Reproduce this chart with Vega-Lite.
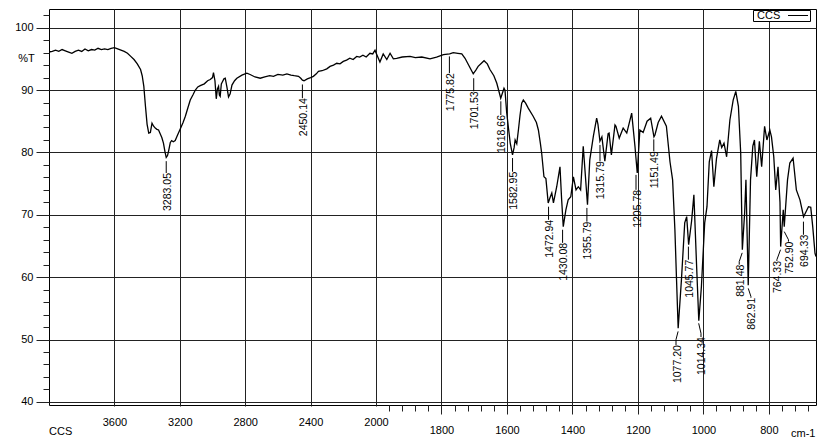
{
  "$schema": "https://vega.github.io/schema/vega-lite/v6.json",
  "autosize": "none",
  "padding": {"left": 49, "top": 9, "right": 19, "bottom": 41},
  "width": 767,
  "height": 396,
  "background": "white",
  "config": {
    "view": {"stroke": "black", "strokeWidth": 1},
    "font": "Liberation Sans",
    "axis": {"domain": false, "labelFont": "Liberation Sans", "labelFontSize": 11, "labelColor": "black", "tickColor": "#222", "gridColor": "#222", "gridWidth": 1, "titleFont": "Liberation Sans", "titleFontSize": 11, "titleFontWeight": "normal", "titleColor": "black"}
  },
  "title": {"text": "CCS", "orient": "bottom", "anchor": "start", "frame": "group", "fontSize": 11, "fontWeight": "normal", "font": "Liberation Sans", "offset": -12, "color": "black"},
  "datasets": {
    "ir": [
      {"wn":4000,"t":96.1},{"wn":3980,"t":96.2},{"wn":3960,"t":96.4},{"wn":3940,"t":96.2},{"wn":3920,"t":96.5},{"wn":3900,"t":96.3},{"wn":3880,"t":96.1},{"wn":3860,"t":95.9},{"wn":3840,"t":96.2},{"wn":3820,"t":96.4},{"wn":3800,"t":96.2},{"wn":3780,"t":96.6},{"wn":3760,"t":96.3},{"wn":3740,"t":96.5},{"wn":3720,"t":96.4},{"wn":3700,"t":96.7},{"wn":3680,"t":96.5},{"wn":3660,"t":96.6},{"wn":3640,"t":96.5},{"wn":3620,"t":96.7},{"wn":3600,"t":96.8},{"wn":3580,"t":96.6},{"wn":3560,"t":96.4},{"wn":3540,"t":96.2},{"wn":3520,"t":95.9},{"wn":3500,"t":95.4},{"wn":3480,"t":94.9},{"wn":3460,"t":94.2},{"wn":3440,"t":93.3},{"wn":3430,"t":92.3},{"wn":3420,"t":90.6},{"wn":3410,"t":87.4},{"wn":3400,"t":84.5},{"wn":3390,"t":83.1},{"wn":3380,"t":83.2},{"wn":3370,"t":84.7},{"wn":3360,"t":84.2},{"wn":3350,"t":83.9},{"wn":3340,"t":83.7},{"wn":3330,"t":83.6},{"wn":3320,"t":83.0},{"wn":3310,"t":82.4},{"wn":3300,"t":81.5},{"wn":3290,"t":80.0},{"wn":3283,"t":79.2},{"wn":3275,"t":79.5},{"wn":3268,"t":80.3},{"wn":3258,"t":81.6},{"wn":3250,"t":81.9},{"wn":3240,"t":81.7},{"wn":3228,"t":81.9},{"wn":3215,"t":82.7},{"wn":3200,"t":83.6},{"wn":3180,"t":84.8},{"wn":3166,"t":85.8},{"wn":3150,"t":87.2},{"wn":3136,"t":88.4},{"wn":3120,"t":89.2},{"wn":3105,"t":90.0},{"wn":3090,"t":90.5},{"wn":3075,"t":90.7},{"wn":3050,"t":91.0},{"wn":3030,"t":91.5},{"wn":3014,"t":91.7},{"wn":3000,"t":92.0},{"wn":2994,"t":92.8},{"wn":2985,"t":91.5},{"wn":2977,"t":88.6},{"wn":2970,"t":90.2},{"wn":2963,"t":90.6},{"wn":2958,"t":89.2},{"wn":2953,"t":89.0},{"wn":2946,"t":91.0},{"wn":2940,"t":91.3},{"wn":2930,"t":91.8},{"wn":2922,"t":91.9},{"wn":2912,"t":90.5},{"wn":2902,"t":88.9},{"wn":2892,"t":89.4},{"wn":2881,"t":90.8},{"wn":2865,"t":91.5},{"wn":2851,"t":91.9},{"wn":2820,"t":92.4},{"wn":2790,"t":92.7},{"wn":2770,"t":92.5},{"wn":2740,"t":92.1},{"wn":2708,"t":91.9},{"wn":2680,"t":92.1},{"wn":2650,"t":92.3},{"wn":2627,"t":92.2},{"wn":2600,"t":92.5},{"wn":2570,"t":92.4},{"wn":2545,"t":92.6},{"wn":2520,"t":92.4},{"wn":2500,"t":92.3},{"wn":2474,"t":92.2},{"wn":2460,"t":91.9},{"wn":2450,"t":91.6},{"wn":2440,"t":91.5},{"wn":2420,"t":91.8},{"wn":2400,"t":92.0},{"wn":2383,"t":92.2},{"wn":2365,"t":92.6},{"wn":2352,"t":93.0},{"wn":2330,"t":93.1},{"wn":2301,"t":93.4},{"wn":2281,"t":93.8},{"wn":2260,"t":94.0},{"wn":2240,"t":94.3},{"wn":2220,"t":94.2},{"wn":2200,"t":94.6},{"wn":2180,"t":94.8},{"wn":2160,"t":95.1},{"wn":2140,"t":94.9},{"wn":2118,"t":95.4},{"wn":2100,"t":95.3},{"wn":2080,"t":95.6},{"wn":2060,"t":95.3},{"wn":2037,"t":95.9},{"wn":2020,"t":95.8},{"wn":2006,"t":96.4},{"wn":2000,"t":96.0},{"wn":1988,"t":94.5},{"wn":1978,"t":95.8},{"wn":1967,"t":94.9},{"wn":1957,"t":95.9},{"wn":1947,"t":95.0},{"wn":1937,"t":95.1},{"wn":1920,"t":95.3},{"wn":1896,"t":95.4},{"wn":1880,"t":95.2},{"wn":1860,"t":95.3},{"wn":1835,"t":95.0},{"wn":1815,"t":95.3},{"wn":1794,"t":95.7},{"wn":1775,"t":95.8},{"wn":1764,"t":96.0},{"wn":1750,"t":95.9},{"wn":1738,"t":95.8},{"wn":1728,"t":95.1},{"wn":1718,"t":94.1},{"wn":1703,"t":92.6},{"wn":1695,"t":93.2},{"wn":1688,"t":93.8},{"wn":1678,"t":94.3},{"wn":1670,"t":94.7},{"wn":1660,"t":94.2},{"wn":1652,"t":93.3},{"wn":1640,"t":92.3},{"wn":1631,"t":91.1},{"wn":1619,"t":88.7},{"wn":1614,"t":89.5},{"wn":1609,"t":90.3},{"wn":1606,"t":90.0},{"wn":1601,"t":86.5},{"wn":1596,"t":84.2},{"wn":1590,"t":81.5},{"wn":1583,"t":79.6},{"wn":1578,"t":80.8},{"wn":1575,"t":82.0},{"wn":1570,"t":81.4},{"wn":1565,"t":83.6},{"wn":1560,"t":86.0},{"wn":1555,"t":87.9},{"wn":1550,"t":88.4},{"wn":1543,"t":87.9},{"wn":1535,"t":87.1},{"wn":1520,"t":85.8},{"wn":1510,"t":84.8},{"wn":1504,"t":83.6},{"wn":1498,"t":81.5},{"wn":1494,"t":79.9},{"wn":1487,"t":76.1},{"wn":1481,"t":75.8},{"wn":1474,"t":71.9},{"wn":1468,"t":72.8},{"wn":1463,"t":73.5},{"wn":1458,"t":71.9},{"wn":1448,"t":74.5},{"wn":1438,"t":77.7},{"wn":1433,"t":72.5},{"wn":1428,"t":68.1},{"wn":1420,"t":70.8},{"wn":1413,"t":72.4},{"wn":1405,"t":72.9},{"wn":1397,"t":76.1},{"wn":1389,"t":74.0},{"wn":1382,"t":74.5},{"wn":1375,"t":74.0},{"wn":1367,"t":81.0},{"wn":1354,"t":71.6},{"wn":1347,"t":78.8},{"wn":1336,"t":82.6},{"wn":1326,"t":85.5},{"wn":1322,"t":84.5},{"wn":1316,"t":81.8},{"wn":1310,"t":82.5},{"wn":1301,"t":78.6},{"wn":1291,"t":83.0},{"wn":1288,"t":83.1},{"wn":1281,"t":79.6},{"wn":1270,"t":84.4},{"wn":1267,"t":84.2},{"wn":1257,"t":82.3},{"wn":1245,"t":83.9},{"wn":1234,"t":83.1},{"wn":1219,"t":86.3},{"wn":1209,"t":81.0},{"wn":1202,"t":76.7},{"wn":1194,"t":83.6},{"wn":1184,"t":83.2},{"wn":1172,"t":85.0},{"wn":1161,"t":85.5},{"wn":1151,"t":82.5},{"wn":1148,"t":82.8},{"wn":1138,"t":84.8},{"wn":1128,"t":85.8},{"wn":1113,"t":84.2},{"wn":1102,"t":78.5},{"wn":1094,"t":75.6},{"wn":1087,"t":67.6},{"wn":1082,"t":59.6},{"wn":1077,"t":51.8},{"wn":1067,"t":59.6},{"wn":1057,"t":68.7},{"wn":1051,"t":69.7},{"wn":1045,"t":65.2},{"wn":1036,"t":69.0},{"wn":1029,"t":73.2},{"wn":1021,"t":62.2},{"wn":1014,"t":53.0},{"wn":1006,"t":58.5},{"wn":996,"t":68.7},{"wn":989,"t":71.3},{"wn":982,"t":78.5},{"wn":975,"t":80.3},{"wn":968,"t":74.5},{"wn":960,"t":79.0},{"wn":950,"t":82.0},{"wn":944,"t":80.8},{"wn":937,"t":81.5},{"wn":929,"t":79.3},{"wn":919,"t":85.2},{"wn":909,"t":88.4},{"wn":901,"t":89.8},{"wn":893,"t":87.4},{"wn":886,"t":79.9},{"wn":881,"t":64.4},{"wn":874,"t":70.3},{"wn":870,"t":75.6},{"wn":863,"t":58.7},{"wn":856,"t":75.6},{"wn":849,"t":81.0},{"wn":844,"t":82.0},{"wn":837,"t":76.1},{"wn":829,"t":81.8},{"wn":822,"t":77.7},{"wn":813,"t":84.2},{"wn":806,"t":82.0},{"wn":797,"t":83.6},{"wn":792,"t":82.5},{"wn":785,"t":79.3},{"wn":779,"t":74.0},{"wn":772,"t":77.7},{"wn":766,"t":72.0},{"wn":764,"t":64.9},{"wn":756,"t":70.8},{"wn":753,"t":68.1},{"wn":743,"t":75.6},{"wn":736,"t":78.3},{"wn":726,"t":79.1},{"wn":716,"t":74.0},{"wn":705,"t":72.4},{"wn":694,"t":69.7},{"wn":679,"t":71.3},{"wn":672,"t":71.2},{"wn":666,"t":68.1},{"wn":659,"t":63.8},{"wn":656,"t":63.3}
    ],
    "peaks": [
      {"label":"3283.05","x":3283.05,"lx":3283.05,"y0":78.6,"y1":78.6,"y2":76.7},
      {"label":"2450.14","x":2450.14,"lx":2450.14,"y0":90.9,"y1":90.9,"y2":88.7},
      {"label":"1775.82","x":1775.82,"lx":1775.82,"y0":95.4,"y1":95.4,"y2":92.7},
      {"label":"1701.53","x":1701.53,"lx":1701.53,"y0":91.9,"y1":91.9,"y2":89.8},
      {"label":"1618.66","x":1618.66,"lx":1618.66,"y0":88.2,"y1":88.2,"y2":86.0},
      {"label":"1582.95","x":1582.95,"lx":1582.95,"y0":79.1,"y1":79.1,"y2":76.9},
      {"label":"1472.94","x":1472.94,"lx":1472.94,"y0":71.3,"y1":71.3,"y2":69.2},
      {"label":"1430.08","x":1430.08,"lx":1430.08,"y0":67.6,"y1":67.6,"y2":65.5},
      {"label":"1355.79","x":1355.79,"lx":1355.79,"y0":71.1,"y1":71.1,"y2":68.9},
      {"label":"1315.79","x":1315.79,"lx":1315.79,"y0":81.2,"y1":81.2,"y2":78.6},
      {"label":"1205.78","x":1205.78,"lx":1205.78,"y0":76.4,"y1":76.4,"y2":74.0},
      {"label":"1151.49","x":1151.49,"lx":1151.49,"y0":82.1,"y1":82.1,"y2":80.2},
      {"label":"1077.20","x":1077.2,"lx":1083.6,"y0":51.3,"y1":50.0,"y2":49.1},
      {"label":"1045.77","x":1045.77,"lx":1045.77,"y0":64.9,"y1":64.9,"y2":62.8},
      {"label":"1014.34","x":1014.34,"lx":1007.3,"y0":52.6,"y1":51.0,"y2":50.4},
      {"label":"881.48","x":881.48,"lx":890.5,"y0":63.9,"y1":62.5,"y2":62.0},
      {"label":"862.91","x":862.91,"lx":854.8,"y0":58.2,"y1":56.9,"y2":56.7},
      {"label":"764.33","x":764.33,"lx":775.5,"y0":64.4,"y1":62.8,"y2":62.6},
      {"label":"752.90","x":752.9,"lx":740.1,"y0":67.3,"y1":66.0,"y2":65.7},
      {"label":"694.33","x":694.33,"lx":694.33,"y0":68.9,"y1":68.9,"y2":66.8}
    ]
  },
  "layer": [
    {
      "data": {"name": "ir"},
      "mark": {"type": "line", "strokeWidth": 1.3, "clip": true, "interpolate": "linear"},
      "encoding": {
        "x": {
          "field": "wn", "type": "quantitative",
          "scale": {"domain": [4000, 2000, 656], "range": [0, 327, 767], "nice": false, "zero": false},
          "axis": {
            "values": [3920,3840,3760,3680,3600,3520,3440,3360,3280,3200,3120,3040,2960,2880,2800,2720,2640,2560,2480,2400,2320,2240,2160,2080,2000,1960,1920,1880,1840,1800,1760,1720,1680,1640,1600,1560,1520,1480,1440,1400,1360,1320,1280,1240,1200,1160,1120,1080,1040,1000,960,920,880,840,800,760,720,680],
            "tickCount": 200,
            "format": "d",
            "labelExpr": "(datum.value >= 2000 ? datum.value % 400 === 0 : datum.value % 200 === 0) ? datum.label : ''",
            "grid": true,
            "gridOpacity": {"condition": {"test": "datum.value >= 2000 ? datum.value % 400 === 0 : datum.value % 200 === 0", "value": 1}, "value": 0},
            "tickSize": {"condition": {"test": "datum.value >= 2000 ? datum.value % 400 === 0 : datum.value % 200 === 0", "value": 9}, "value": 6},
            "labelPadding": 10,
            "labelFlush": false,
            "labelOverlap": false,
            "title": "cm-1",
            "titleX": 766, "titleY": 28, "titleAlign": "right", "titleBaseline": "middle"
          }
        },
        "y": {
          "field": "t", "type": "quantitative",
          "scale": {"domain": [39.5, 103], "nice": false, "zero": false},
          "axis": {
            "values": [40,42,44,46,48,50,52,54,56,58,60,62,64,66,68,70,72,74,76,78,80,82,84,86,88,90,92,94,96,98,100,102],
            "tickCount": 200,
            "format": "d",
            "labelExpr": "datum.value % 10 === 0 ? datum.label : ''",
            "grid": true,
            "gridOpacity": {"condition": {"test": "datum.value % 10 === 0", "value": 1}, "value": 0},
            "tickSize": {"condition": {"test": "datum.value % 10 === 0", "value": 13}, "value": 6},
            "labelPadding": 3,
            "labelOverlap": false,
            "labelFlush": false,
            "title": "%T",
            "titleAngle": 0, "titleX": -23, "titleY": 49, "titleAlign": "center", "titleBaseline": "middle"
          }
        },
        "color": {
          "datum": "CCS",
          "scale": {"range": ["black"]},
          "legend": {
            "title": null, "orient": "none", "legendX": 704, "legendY": 1,
            "strokeColor": "black", "fillColor": "white", "padding": 0,
            "symbolType": "M-2,0H2", "symbolSize": 100, "symbolStrokeWidth": 1,
            "symbolOffset": 39.5, "labelOffset": -46.5,
            "labelFontSize": 11, "labelFont": "Liberation Sans", "labelColor": "black"
          }
        }
      }
    },
    {
      "data": {"name": "peaks"},
      "mark": {"type": "rule", "color": "black", "strokeWidth": 1},
      "encoding": {
        "x": {"field": "x", "type": "quantitative"},
        "y": {"field": "y0", "type": "quantitative"},
        "x2": {"field": "lx"},
        "y2": {"field": "y1"}
      }
    },
    {
      "data": {"name": "peaks"},
      "mark": {"type": "rule", "color": "black", "strokeWidth": 1},
      "encoding": {
        "x": {"field": "lx", "type": "quantitative"},
        "y": {"field": "y1", "type": "quantitative"},
        "y2": {"field": "y2"}
      }
    },
    {
      "data": {"name": "peaks"},
      "mark": {"type": "text", "angle": 270, "align": "right", "baseline": "middle", "fontSize": 10.5, "font": "Liberation Sans", "color": "black", "dy": 1.5},
      "encoding": {
        "x": {"field": "lx", "type": "quantitative"},
        "y": {"field": "y2", "type": "quantitative"},
        "text": {"field": "label"}
      }
    }
  ]
}
